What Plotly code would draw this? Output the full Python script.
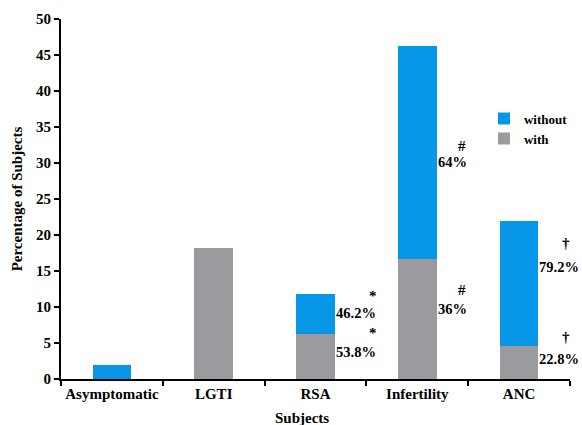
import plotly.graph_objects as go

categories = ["Asymptomatic", "LGTI", "RSA", "Infertility", "ANC"]
with_vals = [0, 18.2, 6.3, 16.6, 4.6]
without_vals = [2.0, 0, 5.5, 29.6, 17.4]
pct_without = ["", "", "46.2%", "64%", "79.2%"]
pct_with = ["", "", "53.8%", "36%", "22.8%"]
sig_marks = ["", "", "*", "#", "\u2020"]
y_ticks = list(range(0, 51, 5))

# annotation layout (positions only, not data)
lab_y_without = [None, None, 9.2, 30.1, 15.6]
lab_y_with = [None, None, 3.75, 9.7, 2.8]
sym_y_without = [None, None, 11.5, 32.4, 18.9]
sym_y_with = [None, None, 6.4, 12.3, 5.9]
sym_xshift = [0, 0, 36, 23, 26]

BLUE = "#0896E8"
GRAY = "#9B9A9F"
FONT = "Times New Roman"
BAR_W = 0.38


def bfont(size):
    return dict(family=FONT, size=size, color="black", weight="bold")


fig = go.Figure()
fig.add_trace(go.Bar(x=categories, y=with_vals, name="with", marker_color=GRAY,
                     width=BAR_W, marker_line_width=0))
fig.add_trace(go.Bar(x=categories, y=without_vals, name="without", marker_color=BLUE,
                     width=BAR_W, marker_line_width=0))

annotations = []
for i, cat in enumerate(categories):
    for txt, ly, sy in ((pct_without[i], lab_y_without[i], sym_y_without[i]),
                        (pct_with[i], lab_y_with[i], sym_y_with[i])):
        if not txt:
            continue
        annotations.append(dict(x=i + BAR_W / 2, y=ly, xref="x", yref="y",
                                text=txt, showarrow=False,
                                xanchor="left", yanchor="middle", xshift=-1,
                                font=bfont(14.5)))
        annotations.append(dict(x=i + BAR_W / 2, y=sy, xref="x", yref="y",
                                text=sig_marks[i], showarrow=False,
                                xanchor="center", yanchor="middle",
                                xshift=sym_xshift[i] + 2,
                                font=bfont(15)))

annotations.append(dict(x=0.473, y=-0.08, xref="paper", yref="paper",
                        text="Subjects", showarrow=False,
                        xanchor="center", yanchor="top",
                        font=bfont(15)))

fig.update_layout(
    width=582, height=425,
    margin=dict(l=61, r=12, t=19, b=46, autoexpand=False),
    barmode="stack",
    plot_bgcolor="white", paper_bgcolor="white",
    font=dict(family=FONT, size=15, color="black"),
    legend=dict(x=0.831, y=0.765, xanchor="left", yanchor="top",
                font=bfont(13),
                bgcolor="rgba(0,0,0,0)", itemwidth=30, tracegroupgap=0),
    annotations=annotations,
    showlegend=True,
)
fig.update_xaxes(
    showline=True, linecolor="black", linewidth=2,
    ticks="outside", tickson="boundaries", ticklen=5, tickwidth=2, tickcolor="black",
    tickfont=bfont(15), tickangle=0, automargin=False,
    showgrid=False, zeroline=False, range=[-0.5, 4.5],
)
fig.update_yaxes(
    range=[0, 50], tickvals=y_ticks,
    showline=True, linecolor="black", linewidth=2,
    ticks="outside", ticklen=5, tickwidth=2, tickcolor="black",
    tickfont=bfont(15), automargin=False,
    showgrid=False, zeroline=False,
    title=dict(text="Percentage of Subjects", standoff=10, font=bfont(15)),
)

# remove the default 8px page margin so the figure sits at the window's corner
fig.write_html("out.html",
               config={"displayModeBar": False},
               post_script="document.body.style.margin='0';"
                           "document.body.style.overflow='hidden';")
